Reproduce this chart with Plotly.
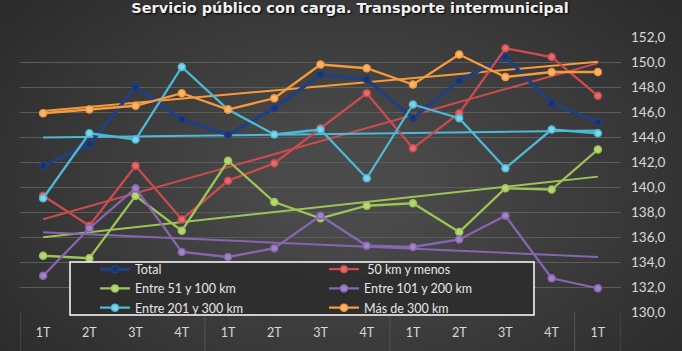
import numpy as np
import plotly.graph_objects as go

quarters = ["1T", "2T", "3T", "4T", "1T", "2T", "3T", "4T", "1T", "2T", "3T", "4T", "1T"]

total = [141.7, 143.4, 148.0, 145.4, 144.2, 146.3, 149.0, 148.6, 145.5, 148.5, 150.4, 146.7, 145.2]
km_50 = [139.3, 136.9, 141.7, 137.4, 140.5, 141.9, 144.7, 147.5, 143.1, 145.9, 151.1, 150.4, 147.3]
km_51_100 = [134.5, 134.3, 139.3, 136.5, 142.1, 138.8, 137.5, 138.5, 138.7, 136.4, 139.9, 139.8, 143.0]
km_101_200 = [132.9, 136.7, 139.9, 134.8, 134.4, 135.1, 137.7, 135.3, 135.2, 135.8, 137.7, 132.7, 131.9]
km_201_300 = [139.1, 144.3, 143.8, 149.6, 146.2, 144.2, 144.6, 140.7, 146.6, 145.5, 141.5, 144.6, 144.3]
km_300 = [145.9, 146.2, 146.5, 147.5, 146.2, 147.1, 149.8, 149.5, 148.2, 150.6, 148.8, 149.2, 149.2]

names = ["Total", " 50 km y menos", "Entre 51 y 100 km", "Entre 101 y 200 km",
         "Entre 201 y 300 km", "Más de 300 km"]
series = [total, km_50, km_51_100, km_101_200, km_201_300, km_300]
colors = ["#22407E", "#CB4B4E", "#9CC456", "#8766B0", "#4DB9D7", "#F59A3E"]
marker_colors = ["#1A3270", "#E06C6C", "#B5D877", "#A083C8", "#7FD3EA", "#FBB56A"]
trend_on = [False, True, True, True, True, True]

x = list(range(len(quarters)))

W, H = 682, 351
L, R, T, B = 20, 61, 37, 39
pw, ph = W - L - R, H - T - B

fig = go.Figure()

# trendlines (linear least squares of each series)
for s, c, on in zip(series, colors, trend_on):
    if not on:
        continue
    k, b0 = np.polyfit(x, s, 1)
    fig.add_trace(go.Scatter(x=[x[0], x[-1]], y=[k * x[0] + b0, k * x[-1] + b0],
                             mode="lines", line=dict(color=c, width=2),
                             showlegend=False, hoverinfo="skip"))

for s, n, c, mc in zip(series, names, colors, marker_colors):
    w = 3.5 if n == "Total" else 2.3
    fig.add_trace(go.Scatter(x=x, y=s, name=n, mode="lines+markers",
                             line=dict(color=c, width=w),
                             marker=dict(size=7, color=mc, line=dict(color=c, width=1.5))))

# background vignette
def px2paper(px, py):
    return (px - L) / pw, (H - B - py) / ph

shapes = []
cx, cy = 345, 185
n_layers = 40
for i in range(n_layers):
    f = 1 - i / n_layers
    rx, ry = 60 + 480 * f, 40 + 310 * f
    x0, y0 = px2paper(cx - rx, cy + ry)
    x1, y1 = px2paper(cx + rx, cy - ry)
    shapes.append(dict(type="circle", xref="paper", yref="paper", x0=x0, x1=x1, y0=y0, y1=y1,
                       fillcolor="rgba(255,255,255,0.0085)", line=dict(width=0), layer="below"))

# category band dividers
for xv in [-0.5, 3.5, 7.5, 11.5, 12.5]:
    shapes.append(dict(type="line", xref="x", yref="paper", x0=xv, x1=xv, y0=0, y1=-B / ph,
                       line=dict(color="#555555", width=1), layer="below"))

# legend frame
lx0, ly0 = px2paper(70, 315)
lx1, ly1 = px2paper(534, 262)
shapes.append(dict(type="rect", xref="paper", yref="paper", x0=lx0, x1=lx1, y0=ly0, y1=ly1,
                   fillcolor="rgba(45,45,45,0.93)", line=dict(color="#FFFFFF", width=1.5),
                   layer="above"))

fig.update_layout(
    width=W, height=H,
    margin=dict(l=L, r=R, t=T, b=B),
    paper_bgcolor="#222222",
    plot_bgcolor="rgba(0,0,0,0)",
    separators=",.",
    shapes=shapes,
    title=dict(text="Servicio público con carga. Transporte intermunicipal",
               x=(350 - L) / pw, xanchor="center", xref="paper", y=1 - 8 / H, yanchor="middle",
               font=dict(family="DejaVu Sans", size=14.5, color="#F2F2F2", weight="bold",
                         shadow="1px 1px 2px #000000")),
    font=dict(family="Lato", color="#D9D9D9", size=12),
    showlegend=True,
    legend=dict(orientation="h", x=(70 - L) / pw, y=(H - B - 288.5) / ph,
                xanchor="left", yanchor="middle",
                entrywidth=159, entrywidthmode="pixels", indentation=25,
                bgcolor="rgba(0,0,0,0)", borderwidth=0,
                font=dict(family="Lato", size=12.5, color="#E6E6E6"),
                tracegroupgap=0, itemwidth=30),
    xaxis=dict(range=[-0.5, 12.5], tickmode="array", tickvals=x, ticktext=quarters,
               showgrid=False, zeroline=False, showline=False, ticks="",
               ticklabelstandoff=11, tickfont=dict(family="Lato", size=12.5, color="#D9D9D9")),
    yaxis=dict(range=[130, 152], side="right", dtick=2, tickformat=".1f",
               showgrid=True, gridcolor="#5C5C5C", gridwidth=1, zeroline=False,
               showline=False, ticks="", ticklabelstandoff=9,
               tickfont=dict(family="Lato", size=13.5, color="#D9D9D9")),
)

fig.write_html("out.html")
